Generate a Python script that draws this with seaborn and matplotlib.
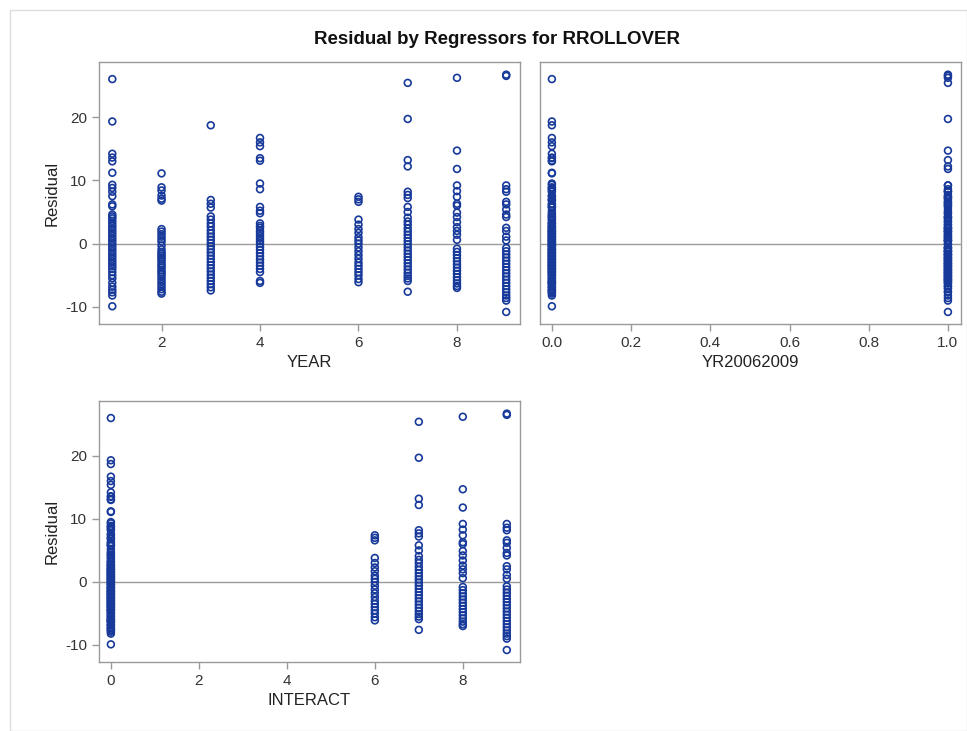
import pandas as pd
import seaborn as sns
import matplotlib.pyplot as plt
from matplotlib.patches import Rectangle

sns.set_style('white')
plt.rcParams['font.family'] = ['Liberation Sans', 'DejaVu Sans']
plt.rcParams['axes.unicode_minus'] = False

# residuals, one list per YEAR
res_y1 = [26.0, 19.3, 14.2, 13.6, 13.0, 11.2, 9.3, 8.8, 8.2, 7.5, 6.2, 5.9, 4.6, 4.3, 4.0,
          3.6, 3.2, 2.8, 2.4, 2.0, 1.6, 1.2, 0.8, 0.4, 0.0, -0.4, -0.8, -1.2, -1.6, -2.0,
          -2.4, -2.8, -3.2, -3.6, -4.0, -4.5, -5.0, -5.5, -6.2, -6.8, -7.3, -7.7, -8.2, -9.9]
res_y2 = [11.1, 8.9, 8.4, 7.6, 7.1, 6.8, 2.3, 1.9, 1.5, 1.1, 0.7, 0.3, -0.3, -0.9, -1.3,
          -1.6, -1.9, -2.2, -2.5, -2.8, -3.2, -3.5, -3.8, -4.2, -4.5, -4.8, -5.2, -5.6,
          -6.0, -6.4, -6.8, -7.2, -7.6, -7.9]
res_y3 = [18.7, 6.9, 6.3, 5.7, 4.3, 3.8, 3.2, 2.7, 2.1, 1.6, 1.1, 0.6, 0.1, -0.4, -0.9,
          -1.4, -1.9, -2.4, -2.9, -3.4, -3.9, -4.4, -4.9, -5.4, -5.9, -6.4, -6.9, -7.4]
res_y4 = [16.7, 16.0, 15.4, 13.5, 13.1, 9.5, 8.6, 5.8, 5.2, 4.8, 3.2, 2.8, 2.5, 2.0, 1.6,
          1.2, 0.8, 0.4, 0.0, -0.5, -1.0, -1.5, -2.0, -2.5, -3.0, -3.5, -4.0, -4.5, -5.9, -6.2]
res_y6 = [7.4, 7.0, 6.6, 3.8, 3.0, 2.3, 1.7, 1.0, 0.5, 0.0, -0.6, -1.2, -1.8, -2.4, -3.0,
          -3.5, -4.0, -4.5, -5.0, -5.6, -6.1]
res_y7 = [25.4, 19.7, 13.2, 12.2, 8.2, 7.7, 7.2, 5.8, 5.0, 4.1, 3.5, 3.0, 2.4, 1.9, 1.4,
          0.9, 0.4, -0.1, -0.6, -1.1, -1.6, -2.1, -2.6, -3.1, -3.6, -4.1, -4.6, -5.1,
          -5.5, -5.9, -7.6]
res_y8 = [26.2, 14.7, 11.8, 9.2, 8.3, 7.4, 6.3, 6.0, 4.9, 4.2, 3.4, 2.6, 2.0, 1.4, 0.6,
          -0.8, -1.3, -1.8, -2.3, -2.8, -3.3, -3.8, -4.3, -4.8, -5.3, -5.8, -6.3, -6.7, -7.0]
res_y9 = [26.7, 26.5, 9.2, 8.6, 8.2, 6.6, 6.2, 5.4, 4.6, 4.2, 2.5, 2.0, 1.1, 0.5, -0.7,
          -1.2, -1.7, -2.2, -2.7, -3.2, -3.7, -4.2, -4.7, -5.2, -5.7, -6.2, -6.7, -7.2,
          -7.7, -8.2, -8.6, -9.0, -10.8]

years = [1, 2, 3, 4, 6, 7, 8, 9]
residuals = [res_y1, res_y2, res_y3, res_y4, res_y6, res_y7, res_y8, res_y9]

rows = []
for yr, vals in zip(years, residuals):
    for v in vals:
        rows.append({'YEAR': yr, 'Residual': v})
df = pd.DataFrame(rows)
df['YR20062009'] = (df['YEAR'] >= 6).astype(float)
df['INTERACT'] = df['YEAR'] * df['YR20062009']

W, H = 967, 731
fig = plt.figure(figsize=(W / 100, H / 100), dpi=100)
fig.patches.append(Rectangle((10 / W, 0), 1 - 10 / W, 1 - 10 / H, transform=fig.transFigure,
                             fill=False, edgecolor='#dddddd', lw=1))

def px_axes(x0, y0, x1, y1):
    return fig.add_axes([x0 / W, 1 - y1 / H, (x1 - x0) / W, (y1 - y0) / H])

ax1 = px_axes(99, 62, 520, 324)
ax2 = px_axes(540, 62, 961, 324)
ax3 = px_axes(99, 401, 520, 662)

blue = '#17399a'
gray = '#9a9a9a'
panels = [(ax1, 'YEAR', (0.73, 9.28), [2, 4, 6, 8], True),
          (ax2, 'YR20062009', (-0.03, 1.033), [0, 0.2, 0.4, 0.6, 0.8, 1.0], False),
          (ax3, 'INTERACT', (-0.27, 9.3), [0, 2, 4, 6, 8], True)]

for ax, col, xl, xt, show_y in panels:
    sns.scatterplot(data=df, x=col, y='Residual', ax=ax, marker='o', s=24,
                    facecolors='none', edgecolor=blue, linewidth=1.2)
    ax.axhline(0, color=gray, lw=1, zorder=0)
    ax.set_xlim(*xl)
    ax.set_ylim(-12.7, 28.7)
    ax.set_xticks(xt)
    if col == 'YR20062009':
        ax.set_xticklabels(['0.0', '0.2', '0.4', '0.6', '0.8', '1.0'])
    ax.set_yticks([-10, 0, 10, 20])
    ax.tick_params(axis='both', labelsize=11, colors='#333333', length=5, width=1,
                   direction='out', color=gray)
    ax.xaxis.set_ticks_position('bottom')
    ax.set_xlabel(col, fontsize=12, color='#222222')
    if show_y:
        ax.yaxis.set_ticks_position('left')
        ax.set_ylabel('Residual', fontsize=12, color='#222222')
    else:
        ax.set_yticks([])
        ax.set_ylabel('')
    for sp in ax.spines.values():
        sp.set_color(gray)
        sp.set_linewidth(1)

fig.text(497 / W, 1 - 40 / H, 'Residual by Regressors for RROLLOVER', ha='center', va='center',
         fontsize=13.5, fontweight='bold', color='#111111')

fig.savefig('out.png', dpi=100)
